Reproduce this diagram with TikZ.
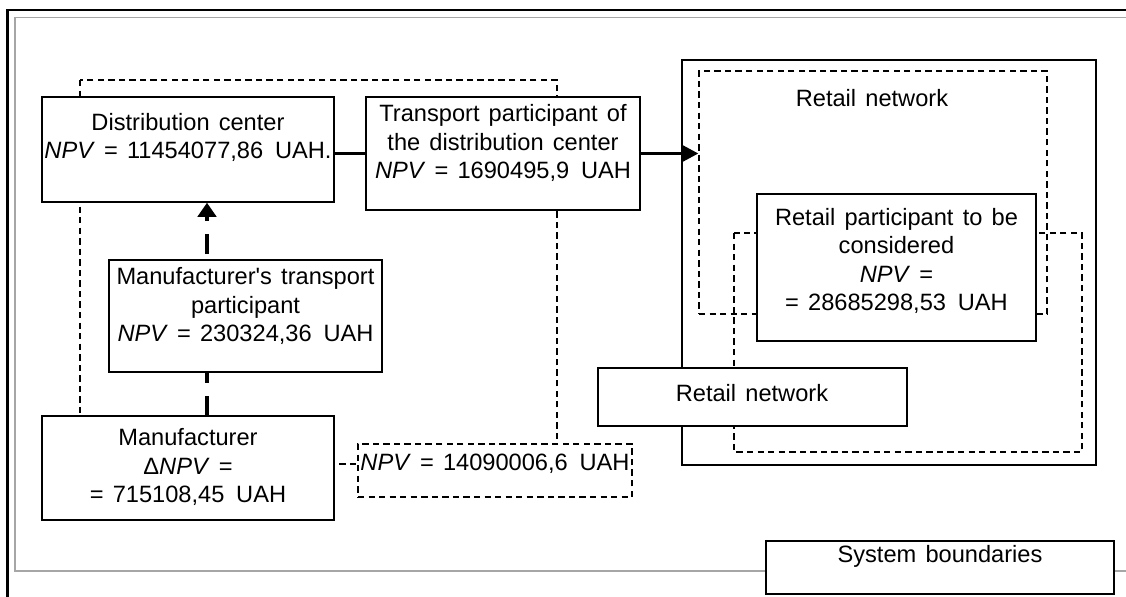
\documentclass[tikz,border=0pt]{standalone}
\usepackage{fontspec}
\setmainfont{Liberation Sans}[WordSpace=1.4, Ligatures=TeXOff]
\usetikzlibrary{arrows.meta}

\begin{document}
\begin{tikzpicture}[x=0.025cm, y=-0.025cm,
    font=\fontsize{16.8}{20}\selectfont,
    box/.style={draw, line width=1pt, fill=white, inner sep=0pt},
    dbox/.style={draw, line width=0.8pt, dash pattern=on 4.5pt off 3pt},
    txt/.style={align=center, inner sep=0pt},
    link/.style={line width=2.4pt},
    flow/.style={line width=2.4pt, -{Triangle[width=11pt,length=11pt]}},
    dflow/.style={line width=2.6pt, dash pattern=on 14pt off 9pt, -{Triangle[width=13pt,length=10pt]}}]
  \useasboundingbox (0,0) rectangle (1126,597);
  % frames
  \draw[line width=1.8pt] (7.5,10) rectangle (1150,620);
  \draw[black!35, line width=1.4pt] (15,17.5) rectangle (1150,571);

  % distribution center with its transport
  \draw[dbox] (80,80) rectangle (557,464);
  \node[box, minimum width=7.3cm, minimum height=2.625cm] (dc) at (188,149.5) {};
  \node[txt] (dct) at (188,137.5) {Distribution center\\ \textit{NPV} = 11454077,86\enspace UAH.};
  \node[box, minimum width=6.85cm, minimum height=2.825cm] (tdc) at (503,153.5) {};
  \node[txt] (tdct) at (503,143) {Transport participant of\\ the distribution center\\ \textit{NPV} = 1690495,9\enspace UAH};
  \node[box, minimum width=7.3cm, minimum height=2.6cm] (man) at (188,468) {};
  \node[txt] (mant) at (188,467) {Manufacturer\\ Δ\textit{NPV} =\\ = 715108,45\enspace UAH};
  \node[dbox, fill=white, minimum width=6.85cm, minimum height=1.325cm] (npv) at (495,470.5) {};
  \node[txt] (npvt) at (495,464) {\textit{NPV} = 14090006,6\enspace UAH};

  \draw[dflow] ([xshift=0.475cm]man.north) -- ([xshift=0.475cm]dc.south);
  \node[box, minimum width=6.825cm, minimum height=2.8cm] (mtp) at (245.5,316) {};
  \node[txt] (mtpt) at (245.5,306) {Manufacturer's transport\\ participant\\ \textit{NPV} = 230324,36\enspace UAH};
  \draw[link] (dc.east |- tdc.west) -- (tdc.west);

  % retail side
  \draw[line width=1pt] (682,60) rectangle (1096,465);
  \node[dbox, minimum width=8.7cm, minimum height=6.075cm] (rna) at (873,192.5) {};
  \node[txt] (rnat) at (872,98) {Retail network};
  \draw[dbox] (734,233) rectangle (1082,452);
  \node[box, minimum width=6.975cm, minimum height=3.675cm] (rp) at (896.5,267.5) {};
  \node[txt] (rpt) at (896.5,261) {Retail participant to be\\ considered\\ \textit{NPV} =\\ = 28685298,53\enspace UAH};
  \node[box, minimum width=7.725cm, minimum height=1.45cm] (rn) at (752.5,397) {};
  \node[txt] (rnt) at (752,393) {Retail network};
  \draw[flow] (tdc.east) -- (tdc.east -| rna.west);

  % legend
  \node[box, minimum width=8.7cm, minimum height=1.325cm] (sb) at (940,567.5) {};
  \node[txt] (sbt) at (940,556) {System boundaries};
\end{tikzpicture}
\end{document}
